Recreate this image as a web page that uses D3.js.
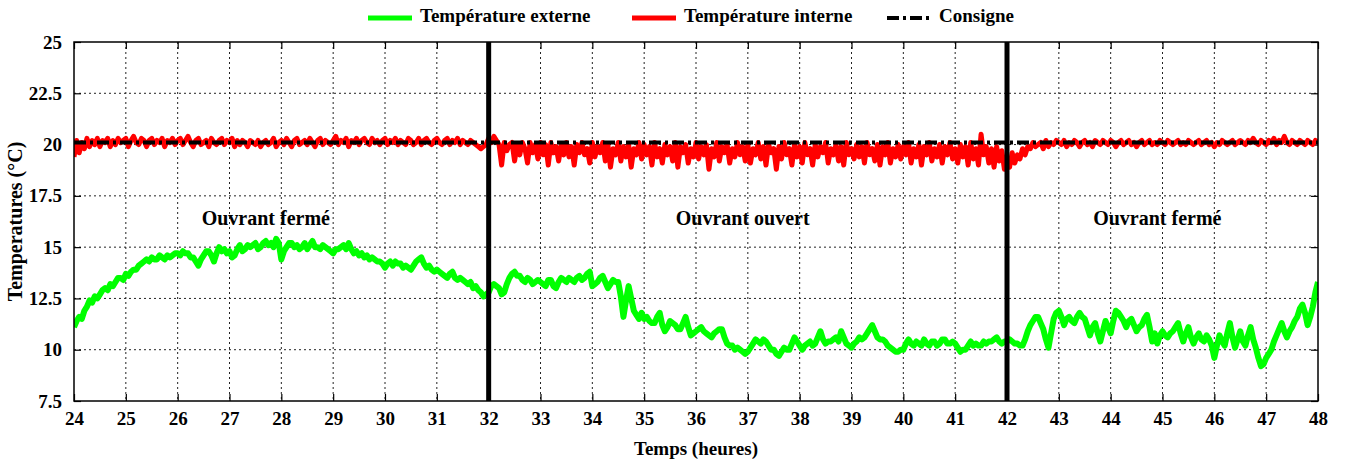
<!DOCTYPE html>
<html>
<head>
<meta charset="utf-8">
<script src="https://cdn.jsdelivr.net/npm/d3@7"></script>
<style>
  body { margin: 0; background: #fff; }
  svg { display: block; }
  text { font-family: "Liberation Serif", "Times New Roman", serif; font-weight: bold; fill: #000; }
</style>
</head>
<body>
<svg id="chart" width="1346" height="462"></svg>
<script>
// ---- data ----
const hourDomain = [24, 48];
const xTickValues = d3.range(24, 49);
const yTickValues = [7.5, 10, 12.5, 15, 17.5, 20, 22.5, 25];
const yTickLabels = ["7.5", "10", "12.5", "15", "17.5", "20", "22.5", "25"];

// outdoor temperature, one sample every 0.05 h from 24 h to 48 h (one row per hour)
const externalStep = 0.05;
const externalTemp = [
  11.1, 11.4, 11.6, 11.5, 11.9, 12.1, 12.4, 12.3, 12.6, 12.5, 12.7, 12.9, 13.0, 12.9, 13.2, 13.1, 13.3, 13.5, 13.5, 13.4,
  13.7, 13.6, 13.8, 13.9, 13.9, 14.1, 14.2, 14.3, 14.4, 14.3, 14.5, 14.4, 14.4, 14.6, 14.5, 14.4, 14.6, 14.5, 14.6, 14.7,
  14.7, 14.6, 14.8, 14.7, 14.7, 14.5, 14.5, 14.3, 14.1, 14.4, 14.6, 14.8, 14.8, 14.6, 14.3, 14.7, 15.0, 14.8, 14.9, 14.7,
  14.8, 14.5, 14.6, 14.9, 15.1, 14.8, 14.9, 15.1, 15.0, 15.1, 15.2, 14.9, 15.0, 15.2, 15.3, 15.1, 15.2, 15.0, 15.4, 15.2,
  14.4, 14.8, 15.0, 15.2, 15.2, 15.0, 15.1, 14.9, 15.0, 15.2, 14.9, 15.1, 15.3, 15.0, 15.0, 14.9, 15.1, 15.0, 14.9, 14.8,
  14.7, 14.9, 14.9, 15.0, 15.1, 14.9, 15.2, 14.9, 14.7, 14.8, 14.6, 14.7, 14.5, 14.6, 14.4, 14.5, 14.4, 14.3, 14.3, 14.2,
  14.0, 14.2, 14.3, 14.1, 14.3, 14.2, 14.2, 14.0, 14.1, 14.0, 13.9, 14.1, 14.3, 14.4, 14.5, 14.2, 14.0, 14.1, 13.9, 13.8,
  13.9, 13.8, 13.7, 13.6, 13.5, 13.7, 13.8, 13.5, 13.4, 13.5, 13.4, 13.3, 13.2, 13.3, 13.0, 13.1, 12.9, 12.8, 12.6, 12.7,
  12.8, 13.1, 13.2, 13.1, 13.0, 12.7, 12.8, 13.2, 13.5, 13.7, 13.8, 13.6, 13.6, 13.4, 13.3, 13.5, 13.4, 13.2, 13.3, 13.4,
  13.3, 13.2, 13.1, 13.4, 13.4, 13.1, 13.0, 13.3, 13.5, 13.4, 13.3, 13.5, 13.4, 13.3, 13.5, 13.6, 13.4, 13.5, 13.7, 13.8,
  13.1, 13.2, 13.3, 13.5, 13.6, 13.3, 13.0, 13.2, 13.4, 13.3, 13.3, 12.6, 11.6, 12.4, 13.1, 12.5, 11.9, 11.7, 11.5, 11.8,
  11.5, 11.6, 11.4, 11.3, 11.3, 11.6, 11.8, 11.2, 10.9, 11.1, 11.4, 11.3, 11.2, 11.0, 11.0, 11.3, 11.6, 11.1, 10.7, 10.8,
  10.9, 11.0, 11.1, 10.9, 10.8, 10.7, 10.6, 10.8, 10.9, 11.0, 11.0, 10.6, 10.3, 10.2, 10.2, 10.0, 10.1, 10.0, 9.9, 9.8,
  9.9, 10.1, 10.3, 10.5, 10.4, 10.3, 10.5, 10.4, 10.2, 10.0, 10.0, 9.8, 9.7, 9.9, 10.1, 10.0, 10.0, 10.3, 10.6, 10.4,
  10.2, 10.0, 10.2, 10.3, 10.4, 10.2, 10.3, 10.6, 10.9, 10.5, 10.3, 10.4, 10.4, 10.5, 10.6, 10.4, 10.9, 10.6, 10.3, 10.2,
  10.1, 10.3, 10.4, 10.6, 10.5, 10.6, 10.8, 11.0, 11.2, 10.9, 10.6, 10.5, 10.5, 10.4, 10.2, 10.1, 10.0, 9.9, 9.9, 10.0,
  10.0, 10.3, 10.5, 10.3, 10.2, 10.4, 10.3, 10.2, 10.5, 10.3, 10.2, 10.4, 10.4, 10.2, 10.3, 10.5, 10.5, 10.3, 10.3, 10.4,
  10.3, 10.1, 9.9, 10.0, 10.0, 10.2, 10.4, 10.2, 10.3, 10.2, 10.2, 10.4, 10.3, 10.4, 10.4, 10.5, 10.6, 10.4, 10.3, 10.4,
  10.4, 10.5, 10.4, 10.3, 10.3, 10.2, 10.2, 10.5, 10.9, 11.2, 11.4, 11.6, 11.6, 11.3, 11.0, 10.5, 10.1, 10.8, 11.5, 11.8,
  11.9, 11.6, 11.2, 11.5, 11.6, 11.4, 11.3, 11.6, 11.8, 11.6, 11.5, 11.1, 10.7, 11.1, 11.3, 10.8, 10.4, 10.9, 11.4, 11.1,
  10.8, 11.4, 11.9, 11.8, 11.6, 11.4, 11.1, 11.4, 11.5, 11.2, 10.9, 11.1, 11.2, 11.5, 11.7, 11.1, 10.4, 10.8, 10.3, 10.7,
  10.9, 10.7, 10.6, 10.8, 10.9, 11.1, 11.3, 10.8, 10.4, 10.8, 11.1, 10.6, 10.3, 10.6, 10.8, 10.5, 10.4, 10.7, 10.5, 10.2,
  9.6, 10.2, 10.7, 10.4, 10.2, 10.8, 11.3, 10.6, 10.1, 10.5, 10.9, 10.4, 10.2, 10.7, 11.1, 10.5, 10.1, 9.6, 9.2, 9.3,
  9.6, 9.8, 10.0, 10.4, 10.7, 11.0, 11.3, 10.9, 10.6, 10.9, 11.1, 11.4, 11.6, 12.0, 12.2, 11.8, 11.2, 11.6, 12.1, 12.8,
  13.3
];

// indoor temperature, one sample every 0.05 h from 24 h to 48 h (one row per hour)
const internalStep = 0.05;
const internalTemp = [
  19.4, 20.2, 19.6, 20.1, 19.8, 20.3, 19.9, 20.2, 20.0, 20.3, 19.9, 20.2, 20.1, 20.3, 19.9, 20.2, 20.0, 20.3, 20.1, 20.2,
  20.3, 19.9, 20.2, 20.4, 20.1, 20.0, 20.3, 20.2, 19.9, 20.2, 20.3, 20.0, 20.2, 20.1, 20.3, 19.9, 20.2, 20.1, 20.3, 20.0,
  20.2, 20.3, 20.0, 20.2, 20.4, 20.1, 19.9, 20.2, 20.3, 20.0, 20.1, 20.2, 19.9, 20.3, 20.1, 20.0, 20.2, 20.3, 20.0, 20.2,
  20.1, 20.3, 19.9, 20.2, 20.0, 20.2, 20.1, 19.9, 20.2, 20.1, 20.0, 20.2, 19.9, 20.1, 20.2, 20.0, 20.1, 20.3, 19.9, 20.1,
  20.2, 20.0, 20.3, 20.1, 19.9, 20.2, 20.3, 20.0, 20.1, 20.2, 20.0, 20.3, 20.1, 19.9, 20.2, 20.3, 20.0, 20.2, 20.1, 20.0,
  20.2, 20.4, 20.0, 20.2, 20.1, 20.3, 19.9, 20.2, 20.1, 20.3, 20.0, 20.2, 20.3, 20.1, 20.0, 20.3, 20.1, 20.2, 20.0, 20.2,
  20.3, 20.0, 20.2, 20.1, 20.3, 20.0, 20.2, 20.1, 20.0, 20.3, 20.2, 20.0, 20.1, 20.3, 20.0, 20.2, 20.3, 20.1, 20.0, 20.2,
  20.3, 20.1, 20.0, 20.2, 20.3, 20.0, 20.2, 20.1, 20.3, 20.0, 20.2, 20.1, 20.0, 20.2, 20.1, 20.0, 19.9, 19.8, 19.9, 20.0,
  20.3, 20.1, 20.4, 20.2, 20.0, 19.0, 20.1, 19.7, 20.0, 20.1, 19.2, 20.0, 19.5, 20.1, 19.8, 19.1, 20.1, 19.6, 20.0, 19.3,
  20.1, 19.5, 20.0, 19.0, 20.1, 19.6, 19.9, 19.2, 20.0, 19.5, 20.1, 19.4, 19.9, 19.0, 20.0, 19.6, 20.1, 19.5, 19.8, 19.1,
  20.1, 19.4, 19.9, 19.6, 20.1, 19.2, 20.0, 18.9, 19.8, 19.5, 20.1, 19.2, 19.9, 19.4, 20.0, 18.9, 19.8, 19.5, 20.1, 19.3,
  20.0, 19.5, 19.9, 19.0, 20.1, 19.4, 19.8, 19.1, 20.0, 19.5, 19.9, 19.2, 20.1, 18.9, 19.9, 19.6, 20.0, 19.1, 19.8, 19.4,
  20.1, 19.3, 19.9, 19.5, 20.0, 18.8, 19.8, 19.4, 20.1, 19.2, 19.9, 19.6, 20.0, 19.1, 19.8, 19.4, 20.1, 19.5, 19.9, 19.2,
  20.0, 19.1, 19.8, 19.5, 20.1, 19.3, 19.9, 19.0, 20.0, 19.6, 19.8, 18.8, 19.9, 19.3, 20.1, 19.5, 19.8, 19.0, 20.0, 19.4,
  19.9, 19.1, 20.1, 19.5, 19.8, 19.0, 20.0, 19.4, 19.9, 19.6, 20.1, 19.1, 19.8, 19.5, 20.0, 19.2, 19.9, 19.0, 20.1, 19.5,
  19.8, 19.3, 20.0, 19.4, 19.9, 19.1, 20.1, 19.5, 19.8, 19.2, 20.0, 19.0, 19.9, 19.5, 20.1, 19.1, 19.8, 19.4, 20.0, 19.3,
  19.9, 19.5, 20.1, 19.1, 19.8, 19.4, 20.0, 19.0, 19.9, 19.5, 20.1, 19.2, 19.8, 19.4, 20.0, 19.1, 19.9, 19.5, 20.1, 19.3,
  19.8, 19.1, 20.0, 19.4, 19.9, 19.0, 20.1, 19.3, 19.8, 19.0, 20.5, 19.5, 19.9, 19.1, 19.8, 18.9, 19.9, 19.2, 19.7, 18.8,
  19.2, 18.9, 19.6, 19.1, 19.5, 19.3, 19.8, 19.5, 19.9, 19.8, 20.1, 19.9, 20.0, 20.1, 19.8, 20.2, 19.9, 20.1, 20.0, 20.2,
  20.1, 20.0, 20.2, 19.9, 20.1, 20.0, 20.2, 20.1, 19.9, 20.1, 20.2, 20.0, 20.1, 19.9, 20.2, 20.1, 20.0, 20.2, 20.1, 20.0,
  20.2, 20.1, 19.9, 20.1, 20.2, 20.0, 20.1, 20.2, 20.0, 20.1, 19.9, 20.1, 20.2, 20.0, 20.1, 20.2, 20.0, 20.1, 20.0, 20.2,
  20.1, 20.0, 20.2, 20.1, 20.0, 20.1, 20.2, 20.0, 20.1, 20.0, 20.2, 20.1, 20.0, 20.1, 20.2, 20.0, 20.1, 20.2, 20.0, 20.1,
  19.9, 20.1, 20.0, 20.2, 20.1, 20.0, 20.1, 20.2, 20.0, 20.1, 20.2, 20.1, 20.0, 20.2, 20.1, 20.3, 20.1, 20.0, 20.2, 20.1,
  20.0, 20.2, 20.1, 20.3, 20.0, 20.2, 20.1, 20.4, 20.1, 20.0, 20.2, 20.1, 20.0, 20.2, 20.1, 20.0, 20.2, 20.1, 20.0, 20.2,
  20.1
];

const setpointValue = 20.1;
const windowChanges = [32, 42];
const phaseLabels = ["Ouvrant fermé", "Ouvrant ouvert", "Ouvrant fermé"];
const phaseLabelHours = [27.7, 36.9, 44.9];
const phaseLabelLevel = 16.3;

const seriesNames = ["Température externe", "Température interne", "Consigne"];
const seriesColors = ["#00ff00", "#ff0000", "#000000"];

// ---- layout ----
const svg = d3.select("#chart");
const margin = { left: 74, right: 28, top: 42, bottom: 61 };
const W = +svg.attr("width"), H = +svg.attr("height");
const plotW = W - margin.left - margin.right;
const plotH = H - margin.top - margin.bottom;

const x = d3.scaleLinear().domain(hourDomain).range([0, plotW]);
const y = d3.scaleLinear().domain([7.5, 25]).range([plotH, 0]);

const g = svg.append("g").attr("transform", `translate(${margin.left},${margin.top})`);

// dotted grid
g.append("g").selectAll("line").data(xTickValues.slice(1, -1)).join("line")
  .attr("x1", d => x(d)).attr("x2", d => x(d)).attr("y1", 0).attr("y2", plotH)
  .attr("stroke", "#222").attr("stroke-width", 1).attr("stroke-dasharray", "2,3");
g.append("g").selectAll("line").data(yTickValues.slice(1, -1)).join("line")
  .attr("y1", d => y(d)).attr("y2", d => y(d)).attr("x1", 0).attr("x2", plotW)
  .attr("stroke", "#222").attr("stroke-width", 1).attr("stroke-dasharray", "2,3");

// axes with inward ticks
const tickLen = 7;
const xAxisBottom = d3.axisBottom(x).tickValues(xTickValues).tickSizeInner(-tickLen).tickSizeOuter(0).tickPadding(tickLen + 4).tickFormat(d3.format("d"));
const xAxisTop = d3.axisTop(x).tickValues(xTickValues).tickSizeInner(-tickLen).tickSizeOuter(0).tickFormat("");
const yAxisLeft = d3.axisLeft(y).tickValues(yTickValues).tickSizeInner(-tickLen).tickSizeOuter(0).tickPadding(tickLen + 5)
  .tickFormat((d, i) => yTickLabels[i]);
const yAxisRight = d3.axisRight(y).tickValues(yTickValues).tickSizeInner(-tickLen).tickSizeOuter(0).tickFormat("");

function styleAxis(sel) {
  sel.select(".domain").remove();
  sel.selectAll(".tick line").attr("stroke", "#000").attr("stroke-width", 1.2);
  sel.selectAll(".tick text").style("font-size", "19px").style("font-family", '"Liberation Serif", serif').style("font-weight", "bold").attr("fill", "#000");
}
g.append("g").attr("transform", `translate(0,${plotH})`).call(xAxisBottom).call(styleAxis);
g.append("g").call(xAxisTop).call(styleAxis);
g.append("g").call(yAxisLeft).call(styleAxis);
g.append("g").attr("transform", `translate(${plotW},0)`).call(yAxisRight).call(styleAxis);

// clip for the data lines
svg.append("defs").append("clipPath").attr("id", "plotClip")
  .append("rect").attr("x", 0).attr("y", 0).attr("width", plotW).attr("height", plotH);
const data = g.append("g").attr("clip-path", "url(#plotClip)");

const extPoints = externalTemp.map((v, i) => [hourDomain[0] + i * externalStep, v]);
const intPoints = internalTemp.map((v, i) => [hourDomain[0] + i * internalStep, v]);
const line = d3.line().x(d => x(d[0])).y(d => y(d[1]));

data.append("path").datum(extPoints).attr("d", line)
  .attr("fill", "none").attr("stroke", seriesColors[0]).attr("stroke-width", 6).attr("stroke-linejoin", "round");
data.append("path").datum(intPoints).attr("d", line)
  .attr("fill", "none").attr("stroke", seriesColors[1]).attr("stroke-width", 5).attr("stroke-linejoin", "round");
data.append("path").datum([[hourDomain[0], setpointValue], [hourDomain[1], setpointValue]]).attr("d", line)
  .attr("fill", "none").attr("stroke", seriesColors[2]).attr("stroke-width", 4).attr("stroke-dasharray", "12,4,3,4");

// window opening / closing markers
data.append("g").selectAll("line").data(windowChanges).join("line")
  .attr("x1", d => x(d)).attr("x2", d => x(d)).attr("y1", 0).attr("y2", plotH)
  .attr("stroke", "#000").attr("stroke-width", 5);

// phase labels
g.append("g").selectAll("text").data(phaseLabels).join("text")
  .attr("x", (d, i) => x(phaseLabelHours[i])).attr("y", y(phaseLabelLevel))
  .attr("text-anchor", "middle").attr("dominant-baseline", "middle")
  .style("font-size", "20px").text(d => d);

// frame
g.append("rect").attr("x", 0).attr("y", 0).attr("width", plotW).attr("height", plotH)
  .attr("fill", "none").attr("stroke", "#000").attr("stroke-width", 1.5);

// axis titles
svg.append("text").attr("x", margin.left + plotW / 2).attr("y", 451)
  .attr("text-anchor", "middle").attr("dominant-baseline", "middle").style("font-size", "19px").text("Temps (heures)");
svg.append("text").attr("transform", `translate(17,${margin.top + plotH / 2}) rotate(-90)`)
  .attr("text-anchor", "middle").attr("dominant-baseline", "middle").style("font-size", "20px").text("Temperatures (°C)");

// legend
const legendX = [368, 632, 887];
const legend = svg.append("g").selectAll("g").data(seriesNames).join("g")
  .attr("transform", (d, i) => `translate(${legendX[i]},18)`);
legend.append("line").attr("x1", 0).attr("x2", 44).attr("y1", 0).attr("y2", 0)
  .attr("stroke", (d, i) => seriesColors[i]).attr("stroke-width", (d, i) => i === 2 ? 4 : 5)
  .attr("stroke-dasharray", (d, i) => i === 2 ? "12,4,3,4" : null);
legend.append("text").attr("x", 52).attr("y", 0).attr("dominant-baseline", "middle")
  .style("font-size", "19px").text(d => d);
</script>
</body>
</html>
